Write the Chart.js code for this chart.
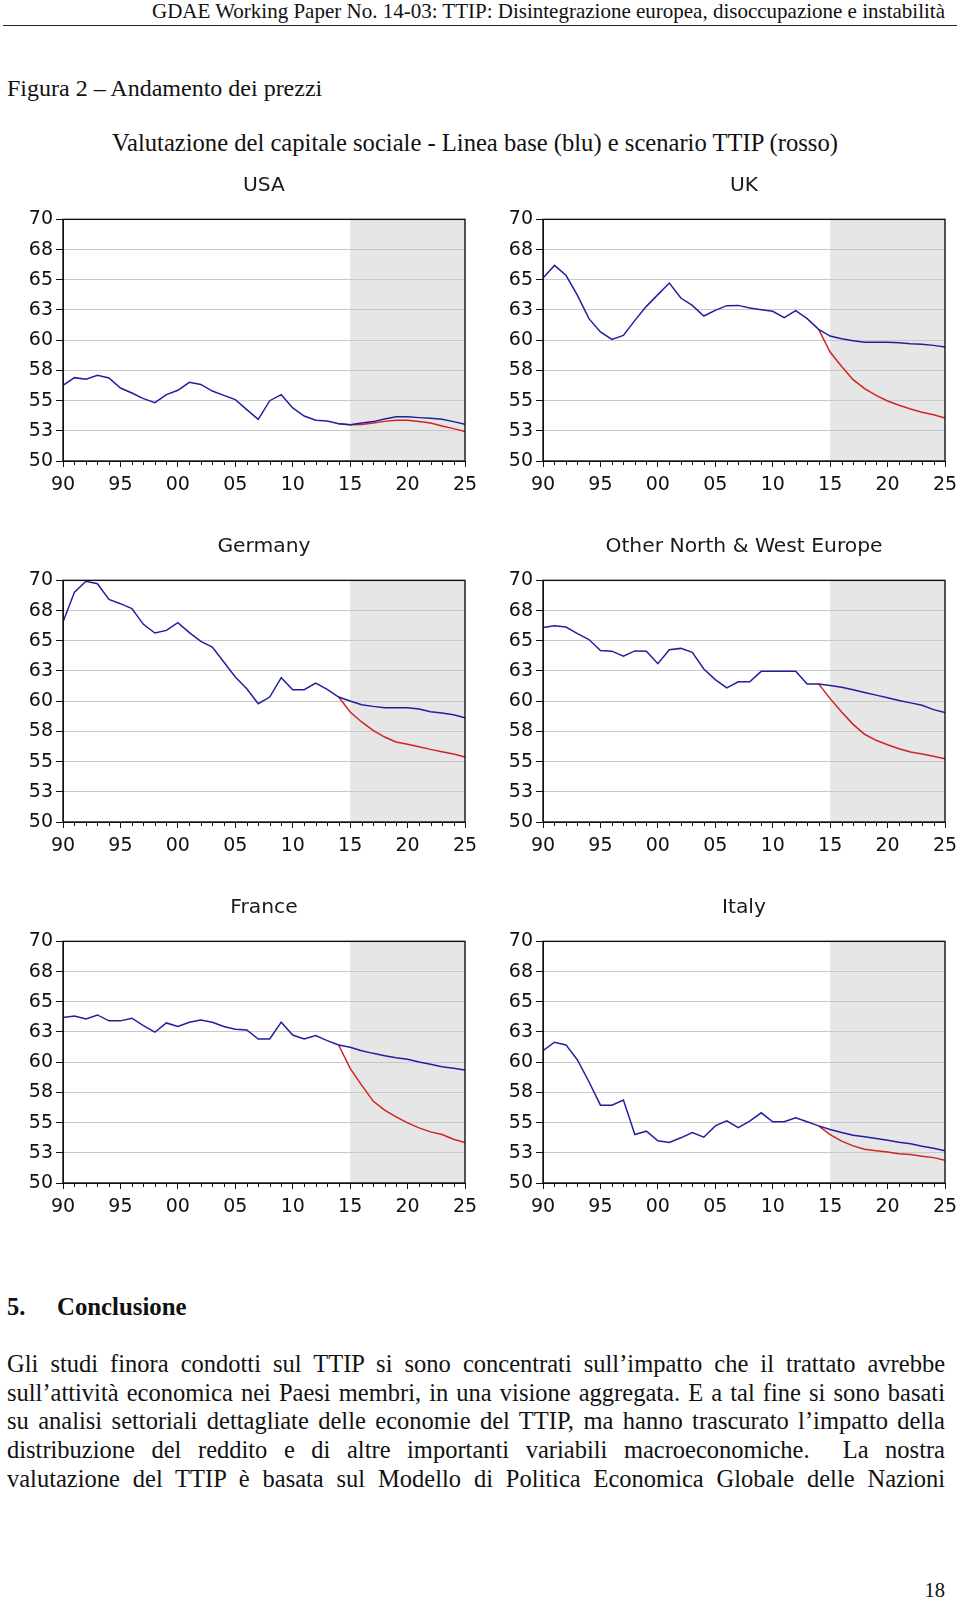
<!DOCTYPE html>
<html>
<head>
<meta charset="utf-8">
<script src="https://cdn.jsdelivr.net/npm/chart.js@4.4.1/dist/chart.umd.min.js"></script>
<style>
  html, body { margin: 0; padding: 0; background: #fff; }
  body { width: 960px; height: 1599px; position: relative; overflow: hidden;
         font-family: "Liberation Serif", "Times New Roman", serif; color: #111; }
  .t { position: absolute; white-space: nowrap; line-height: 1; }
  #hdr { right: 15px; top: 1px; font-size: 21px; }
  #rule { position: absolute; left: 3px; width: 954px; top: 25px; border-top: 1.5px solid #222; }
  #fig { left: 7px; top: 76px; font-size: 24px; }
  #sub { left: 112px; top: 131px; font-size: 24.6px; }
  #sec { top: 1295px; font-size: 24.5px; font-weight: bold; }
  .p { position: absolute; left: 7px; width: 938px; font-size: 24.5px; line-height: 1;
       text-align: justify; text-align-last: justify; }
  #pg { right: 15px; top: 1580px; font-size: 20.5px; }
  canvas { position: absolute; }
</style>
</head>
<body>
<div class="t" id="hdr">GDAE Working Paper No. 14-03: TTIP: Disintegrazione europea, disoccupazione e instabilità</div>
<div id="rule"></div>
<div class="t" id="fig">Figura 2 – Andamento dei prezzi</div>
<div class="t" id="sub">Valutazione del capitale sociale - Linea base (blu) e scenario TTIP (rosso)</div>

<div class="t" id="sec" style="left:7px">5.</div>
<div class="t" style="left:57px;top:1295px;font-size:24.8px;font-weight:bold">Conclusione</div>
<div class="p" style="top:1352px">Gli studi finora condotti sul TTIP si sono concentrati sull’impatto che il trattato avrebbe</div>
<div class="p" style="top:1381px">sull’attività economica nei Paesi membri, in una visione aggregata. E a tal fine si sono basati</div>
<div class="p" style="top:1409px">su analisi settoriali dettagliate delle economie del TTIP, ma hanno trascurato l’impatto della</div>
<div class="p" style="top:1438px">distribuzione del reddito e di altre importanti variabili macroeconomiche.&nbsp; La nostra</div>
<div class="p" style="top:1467px">valutazione del TTIP è basata sul Modello di Politica Economica Globale delle Nazioni</div>
<div class="t" id="pg">18</div>

<script>
// years on the x axis, baseline runs 1990-2025, TTIP scenario branches off in 2014
const years = [1990, 1991, 1992, 1993, 1994, 1995, 1996, 1997, 1998, 1999,
               2000, 2001, 2002, 2003, 2004, 2005, 2006, 2007, 2008, 2009,
               2010, 2011, 2012, 2013, 2014, 2015, 2016, 2017, 2018, 2019,
               2020, 2021, 2022, 2023, 2024, 2025];
const ttipYears = [2014, 2015, 2016, 2017, 2018, 2019, 2020, 2021, 2022, 2023, 2024, 2025];
const shadeFrom = 2015;

const titles = ['USA', 'UK', 'Germany', 'Other North & West Europe', 'France', 'Italy'];

const usaBase = [56.26, 56.90, 56.76, 57.09, 56.87, 56.04, 55.63, 55.16, 54.83, 55.49,
                 55.85, 56.51, 56.34, 55.79, 55.43, 55.08, 54.25, 53.45, 54.99, 55.49,
                 54.39, 53.72, 53.37, 53.31, 53.09, 53.00, 53.14, 53.26, 53.48, 53.67,
                 53.67, 53.59, 53.53, 53.45, 53.26, 53.03];
const usaTtip = [53.09, 53.00, 53.03, 53.14, 53.28, 53.37, 53.37, 53.26, 53.14, 52.90, 52.68, 52.43];

const ukBase = [65.14, 66.19, 65.37, 63.71, 61.78, 60.68, 60.07, 60.40, 61.64, 62.80,
                63.77, 64.73, 63.49, 62.88, 62.00, 62.47, 62.86, 62.88, 62.66, 62.52,
                62.39, 61.86, 62.44, 61.78, 60.90, 60.34, 60.12, 59.96, 59.82, 59.82,
                59.82, 59.79, 59.71, 59.66, 59.57, 59.43];
const ukTtip = [60.90, 59.02, 57.83, 56.73, 55.99, 55.43, 54.97, 54.61, 54.30, 54.03, 53.83, 53.56];

const deBase = [66.55, 69.03, 69.92, 69.72, 68.43, 68.07, 67.66, 66.36, 65.64, 65.86,
                66.50, 65.67, 64.95, 64.48, 63.24, 62.00, 61.03, 59.79, 60.34, 61.94,
                60.95, 60.95, 61.50, 60.98, 60.34, 60.01, 59.71, 59.57, 59.46, 59.46,
                59.46, 59.35, 59.13, 59.02, 58.88, 58.63];
const deTtip = [60.34, 59.10, 58.28, 57.59, 57.03, 56.62, 56.43, 56.23, 56.01, 55.82, 55.63, 55.38];

const onweBase = [66.10, 66.25, 66.14, 65.59, 65.10, 64.19, 64.14, 63.72, 64.16, 64.14,
                  63.10, 64.26, 64.37, 64.04, 62.66, 61.79, 61.10, 61.60, 61.60, 62.47,
                  62.47, 62.47, 62.47, 61.43, 61.43, 61.29, 61.16, 60.94, 60.72, 60.50,
                  60.28, 60.06, 59.86, 59.66, 59.30, 59.06];
const onweTtip = [61.43, 60.21, 59.10, 58.08, 57.26, 56.76, 56.40, 56.07, 55.79, 55.62, 55.45, 55.24];

const frBase = [63.69, 63.83, 63.58, 63.91, 63.42, 63.42, 63.64, 63.03, 62.48, 63.25,
                62.95, 63.31, 63.50, 63.31, 62.95, 62.72, 62.67, 61.92, 61.92, 63.31,
                62.25, 61.92, 62.20, 61.78, 61.42, 61.23, 60.95, 60.73, 60.54, 60.37,
                60.24, 60.01, 59.82, 59.63, 59.49, 59.35];
const frTtip = [61.42, 59.49, 58.10, 56.78, 56.03, 55.48, 54.98, 54.56, 54.23, 54.01, 53.62, 53.35];

const itBase = [60.95, 61.65, 61.43, 60.18, 58.38, 56.44, 56.44, 56.86, 54.01, 54.29,
                53.49, 53.35, 53.74, 54.18, 53.79, 54.73, 55.15, 54.59, 55.12, 55.81,
                55.07, 55.07, 55.39, 55.07, 54.73, 54.43, 54.18, 53.96, 53.82, 53.68,
                53.54, 53.37, 53.24, 53.04, 52.88, 52.66];
const itTtip = [54.73, 54.01, 53.46, 53.07, 52.79, 52.66, 52.57, 52.43, 52.35, 52.21, 52.10, 51.88];

const baseSeries = [usaBase, ukBase, deBase, onweBase, frBase, itBase];
const ttipSeries = [usaTtip, ukTtip, deTtip, onweTtip, frTtip, itTtip];

const blue = '#20209e';
const red = '#d02424';
const tickFont = { family: 'DejaVu Sans', size: 19 };

// grey forecast band, black frame and the short yearly ticks
const panelFrame = {
  id: 'panelFrame',
  beforeDraw(chart) {
    const { ctx, chartArea: a, scales: { x } } = chart;
    const x0 = x.getPixelForValue(shadeFrom);
    ctx.save();
    ctx.fillStyle = '#e6e6e6';
    ctx.fillRect(x0, a.top, a.right - x0, a.bottom - a.top);
    ctx.restore();
  },
  afterDraw(chart) {
    const { ctx, chartArea: a, scales: { x } } = chart;
    ctx.save();
    ctx.strokeStyle = '#111';
    ctx.lineWidth = 1.4;
    ctx.strokeRect(a.left, a.top, a.right - a.left, a.bottom - a.top);
    ctx.lineWidth = 1;
    x.ticks.forEach(t => {
      if (t.value % 5 !== 0) {
        const px = Math.round(x.getPixelForValue(t.value)) + 0.5;
        ctx.beginPath();
        ctx.moveTo(px, a.bottom);
        ctx.lineTo(px, a.bottom + 4);
        ctx.stroke();
      }
    });
    ctx.restore();
  }
};

titles.forEach((title, i) => {
  const cv = document.createElement('canvas');
  cv.width = 480;
  cv.height = 340;
  cv.style.left = (i % 2) * 480 + 'px';
  cv.style.top = 165 + Math.floor(i / 2) * 361 + 'px';
  document.body.appendChild(cv);

  new Chart(cv, {
    type: 'line',
    data: {
      datasets: [
        { data: years.map((yr, k) => ({ x: yr, y: baseSeries[i][k] })),
          borderColor: blue, borderWidth: 1.5, pointRadius: 0, tension: 0 },
        { data: ttipYears.map((yr, k) => ({ x: yr, y: ttipSeries[i][k] })),
          borderColor: red, borderWidth: 1.5, pointRadius: 0, tension: 0 }
      ]
    },
    options: {
      responsive: false,
      animation: false,
      events: [],
      layout: { padding: { left: 0, right: 15, top: 0, bottom: 0 } },
      plugins: {
        legend: { display: false },
        tooltip: { enabled: false },
        title: {
          display: true, text: title, fullSize: false, color: '#1a1a1a',
          font: { family: 'DejaVu Sans', size: 20.3, weight: 'normal' },
          padding: { top: 9, bottom: 21 }
        }
      },
      scales: {
        x: {
          type: 'linear', min: 1990, max: 2025,
          afterFit: s => { s.height = 44; s.paddingLeft = 0; s.paddingRight = 0; },
          ticks: {
            stepSize: 1, autoSkip: false, maxRotation: 0, maxTicksLimit: 50,
            padding: 7, color: '#111', font: tickFont,
            callback: v => (v % 5 === 0 ? String(v).slice(2) : '')
          },
          grid: {
            drawOnChartArea: false, tickLength: 6,
            tickColor: c => (c.tick && c.tick.value % 5 === 0 ? '#111' : 'rgba(0,0,0,0)')
          },
          border: { color: '#111' }
        },
        y: {
          min: 50, max: 70,
          afterFit: s => { s.width = 63; },
          ticks: { stepSize: 2.5, padding: 3, color: '#111', font: tickFont,
                   callback: v => Math.round(v) },
          grid: { color: '#c8c8c8', tickColor: '#111', tickLength: 7 },
          border: { color: '#111' }
        }
      }
    },
    plugins: [panelFrame]
  });
});
</script>
</body>
</html>
